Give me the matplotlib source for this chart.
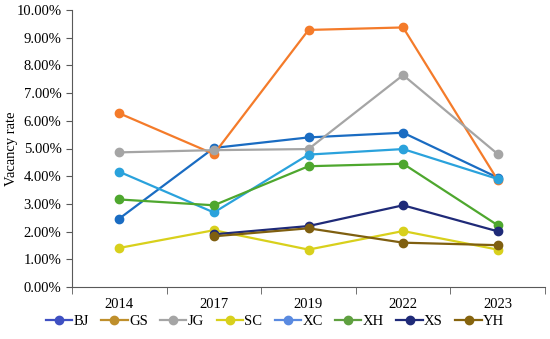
import numpy as np
import matplotlib.pyplot as plt
from matplotlib.lines import Line2D
from matplotlib.ticker import FuncFormatter, MultipleLocator

years = ['2014', '2017', '2019', '2022', '2023']
nan = np.nan

# vacancy rate (%) per district
BJ = [2.47, 5.02, 5.40, 5.57, 3.95]
GS = [6.27, 4.80, 9.28, 9.37, 3.86]
JG = [4.86, 4.94, 4.98, 7.65, 4.80]
SC = [1.41, 2.05, 1.35, 2.02, 1.35]
XC = [4.16, 2.69, 4.78, 4.98, 3.90]
XH = [3.16, 2.95, 4.36, 4.45, 2.23]
XS = [nan, 1.90, 2.20, 2.95, 2.01]
YH = [nan, 1.83, 2.12, 1.60, 1.51]

names = ['BJ', 'GS', 'JG', 'SC', 'XC', 'XH', 'XS', 'YH']
series = [BJ, GS, JG, SC, XC, XH, XS, YH]
line_colors = ['#1A6CC2', '#F47B2A', '#A5A5A5', '#D8D01C',
               '#2AA2DC', '#4EA72E', '#1F2A78', '#7F5F10']
legend_colors = ['#3F50C2', '#BF8F2C', '#A5A5A5', '#D8D01C',
                 '#5A8AE0', '#5FA040', '#1F2A78', '#86640E']

plt.rcParams['font.family'] = ['Liberation Serif', 'DejaVu Serif']
plt.rcParams['font.size'] = 10.5

fig = plt.figure(figsize=(5.5, 3.39), dpi=100)
ax = fig.add_axes([72 / 550, 1 - 287 / 339, 473 / 550, 277 / 339])

x = np.arange(len(years))
for name, vals, c in zip(names, series, line_colors):
    ax.plot(x, vals, color=c, lw=1.6, marker='o', ms=6, label=name)

ax.set_xlim(-0.5, len(years) - 0.5)
ax.set_ylim(0, 10)
ax.set_xticks(x)
ax.set_xticklabels(years)
ax.set_xticks(np.arange(-0.5, len(years)), minor=True)
ax.tick_params(axis='x', which='major', length=0, pad=8)
ax.tick_params(axis='x', which='minor', length=5, color='#595959')
ax.yaxis.set_major_locator(MultipleLocator(1))
ax.yaxis.set_major_formatter(FuncFormatter(lambda v, p: '%.2f%%' % v))
ax.tick_params(axis='y', length=4, color='#595959')
ax.spines['top'].set_visible(False)
ax.spines['right'].set_visible(False)
ax.spines['left'].set_color('#595959')
ax.spines['bottom'].set_color('#595959')
ax.set_ylabel('Vacancy rate')
ax.yaxis.set_label_coords(-54 / 473, 0.5)

handles = [Line2D([], [], color=c, lw=1.6, marker='o', ms=6) for c in legend_colors]
fig.legend(handles, names, loc='center', bbox_to_anchor=(0.5, 1 - 321 / 339),
           ncol=8, frameon=False, handlelength=1.8, handletextpad=0.1,
           columnspacing=0.85, fontsize=10.5)

fig.savefig('out.png', dpi=100)
